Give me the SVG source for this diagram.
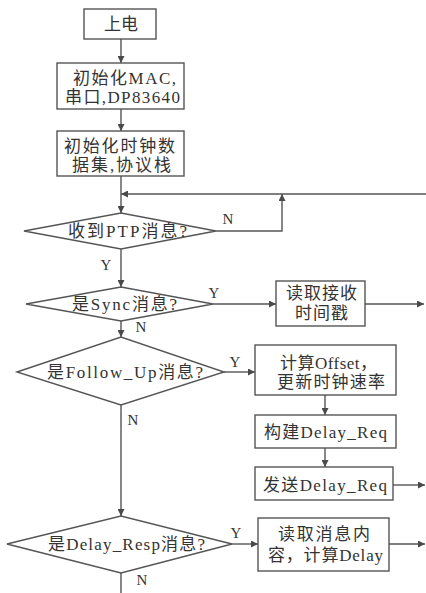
<svg xmlns="http://www.w3.org/2000/svg" width="426" height="593" viewBox="0 0 426 593">
<defs>
<marker id="ah" viewBox="0 0 10 10" refX="10" refY="5" markerWidth="7" markerHeight="7" markerUnits="userSpaceOnUse" orient="auto"><path d="M0,0 L10,5 L0,10 z" fill="#4a4a4a"/></marker>
<style>
.b{fill:#fff;stroke:#555;stroke-width:1.4}
.c{fill:none;stroke:#555;stroke-width:1.4}
.t{font-family:"Liberation Serif","Noto Sans CJK SC",serif;font-size:17px;fill:#333;text-anchor:middle}
.l{font-family:"Liberation Serif",serif;font-size:15px;fill:#333;text-anchor:middle}
</style>
</defs>
<rect width="426" height="593" fill="#fff"/>
<g id="connectors">
<path class="c" d="M121,39 V63" marker-end="url(#ah)"/>
<path class="c" d="M121,109 V131" marker-end="url(#ah)"/>
<path class="c" d="M121,176 V213" marker-end="url(#ah)"/>
<path class="c" d="M426,194 H121" marker-end="url(#ah)"/>
<path class="c" d="M216,231 H282 V194" marker-end="url(#ah)"/>
<path class="c" d="M121,249 V287" marker-end="url(#ah)"/>
<path class="c" d="M213,304 H276" marker-end="url(#ah)"/>
<path class="c" d="M365,304 H424" marker-end="url(#ah)"/>
<path class="c" d="M121,321 V337" marker-end="url(#ah)"/>
<path class="c" d="M224,372 H255" marker-end="url(#ah)"/>
<path class="c" d="M325,395 V415" marker-end="url(#ah)"/>
<path class="c" d="M325,448 V467" marker-end="url(#ah)"/>
<path class="c" d="M393,485 H425" marker-end="url(#ah)"/>
<path class="c" d="M121,405 V516" marker-end="url(#ah)"/>
<path class="c" d="M232,544 H258" marker-end="url(#ah)"/>
<path class="c" d="M389,544 H425" marker-end="url(#ah)"/>
<path class="c" d="M121,573 V593"/>
<text class="l" x="228" y="224">N</text>
<text class="l" x="106" y="270">Y</text>
<text class="l" x="214" y="298">Y</text>
<text class="l" x="141" y="332">N</text>
<text class="l" x="235" y="367">Y</text>
<text class="l" x="133" y="425">N</text>
<text class="l" x="236" y="538">Y</text>
<text class="l" x="142" y="585">N</text>
</g>
<g id="n1"><rect class="b" x="84" y="9" width="72" height="30"/><text class="t" x="121" y="30" textLength="34">上电</text></g>
<g id="n2"><rect class="b" x="57" y="63" width="127" height="46"/><text class="t" x="124.5" y="84" textLength="103">初始化MAC,</text><text class="t" x="122.5" y="103" textLength="115">串口,DP83640</text></g>
<g id="n3"><rect class="b" x="57" y="131" width="127" height="45"/><text class="t" x="119.5" y="151.5" textLength="111">初始化时钟数</text><text class="t" x="121.5" y="170.5" textLength="99">据集,协议栈</text></g>
<g id="d1"><path class="b" d="M24,231 L121,213 L216,231 L121,249 Z"/><text class="t" x="127.5" y="237" textLength="119">收到PTP消息?</text></g>
<g id="d2"><path class="b" d="M26,304 L121,287 L213,304 L121,321 Z"/><text class="t" x="124.5" y="310" textLength="105">是Sync消息?</text></g>
<g id="n4"><rect class="b" x="276" y="281" width="89" height="45"/><text class="t" x="321.5" y="299" textLength="71">读取接收</text><text class="t" x="321.5" y="319" textLength="53">时间戳</text></g>
<g id="d3"><path class="b" d="M17,372 L121,337 L224,372 L121,405 Z"/><text class="t" x="125" y="378" textLength="156">是Follow_Up消息?</text></g>
<g id="n5"><rect class="b" x="255" y="345" width="141" height="50"/><text class="t" x="328.5" y="369" textLength="97">计算Offset，</text><text class="t" x="331" y="388" textLength="108">更新时钟速率</text></g>
<g id="n6"><rect class="b" x="255" y="415" width="141" height="33"/><text class="t" x="325.5" y="438" textLength="123">构建Delay_Req</text></g>
<g id="n7"><rect class="b" x="255" y="467" width="138" height="33"/><text class="t" x="325" y="491" textLength="124">发送Delay_Req</text></g>
<g id="d4"><path class="b" d="M7,544 L121,516 L232,544 L121,573 Z"/><text class="t" x="126.5" y="550" textLength="157">是Delay_Resp消息?</text></g>
<g id="n8"><rect class="b" x="258" y="518" width="131" height="53"/><text class="t" x="324" y="540" textLength="92">读取消息内</text><text class="t" x="325.5" y="561" textLength="115">容，计算Delay</text></g>
</svg>
